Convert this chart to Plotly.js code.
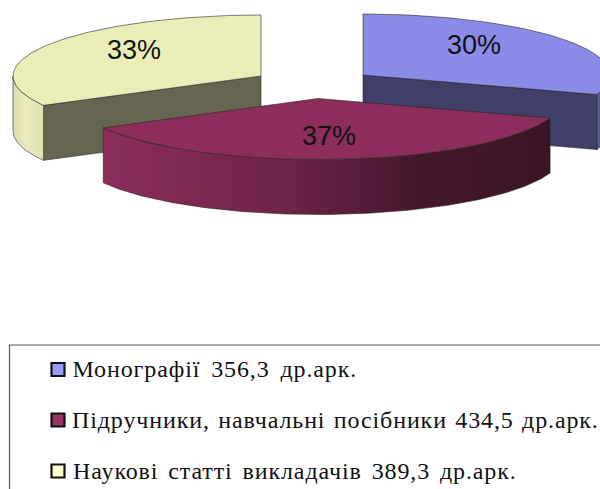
<!DOCTYPE html>
<html><head><meta charset="utf-8">
<script src="https://cdn.plot.ly/plotly-3.0.1.min.js"></script>
<style>html,body{margin:0;padding:0;background:#fff;overflow:hidden}#c{width:600px;height:489px}
.annotation-text{letter-spacing:0.88px;word-spacing:1.5px}
.annotation[data-index="0"] .annotation-text{word-spacing:4px}
.annotation[data-index="2"] .annotation-text{word-spacing:3px}</style>
</head><body><div id="c"></div>
<script>
// data
const categories = ["Монографії 356,3 др.арк.", "Підручники, навчальні посібники 434,5 др.арк.", "Наукові статті викладачів 389,3 др.арк."];
const values = [356.3, 434.5, 389.3];
const percentLabels = ["30%", "37%", "33%"];
// styles
const topColors = ["#8b8bea", "#8c2d5b", "#ebedb9"];
const swatchColors = ["#9999ff", "#993366", "#ffffcc"];
const faceColors = ["#3f3f68", "#5a1d3a", "#666650"];
const wallScales = [
  [[0, "#5c5c99"], [1, "#4b4b80"]],
  [[0, "#8c2d5b"], [0.4, "#6f2448"], [0.7, "#45172d"], [1, "#3b1424"]],
  [[0, "#dcdcae"], [0.4, "#eaeabc"], [1, "#e0e0b2"]]
];
// geometry of the exploded 3D pie (page pixels are the axis units)
const centres = [[363, 75], [318, 98.5], [261, 76]];
const radiiX = [247, 245, 248];
const ry = 61, depth = 55;
const labelX = [474, 329, 134], labelY = [47.5, 138.5, 52];
const legendTextX = [73, 70, 74];
const legendTextY = [368.5, 420, 471];
const swatchY = [369.5, 420, 471];
const swatchX = 58;

const total = values.reduce((a, b) => a + b, 0);
let cum = 0;
const spans = values.map(v => { const s = cum; cum += v / total * 360; return [s, cum]; });
const pt = (c, rx, a, dz) => {
  const r = a * Math.PI / 180;
  return [c[0] + rx * Math.sin(r), c[1] - ry * Math.cos(r) + dz];
};
const arc = (c, rx, a0, a1, dz) => {
  const out = [], n = Math.max(2, Math.ceil(Math.abs(a1 - a0)));
  for (let i = 0; i <= n; i++) out.push(pt(c, rx, a0 + (a1 - a0) * i / n, dz));
  return out;
};
const poly = (pts, extra) => Object.assign({
  x: pts.map(p => p[0]), y: pts.map(p => p[1]),
  mode: "lines", fill: "toself", hoverinfo: "skip", showlegend: false
}, extra);
const edge = { color: "rgba(40,40,40,0.75)", width: 0.8 };

const traces = [];
// paint order: blue, yellow, maroon on top
[0, 2, 1].forEach(i => {
  const c = centres[i], rx = radiiX[i], [a0, a1] = spans[i];
  const w0 = Math.max(a0, 90), w1 = Math.min(a1, 270);
  // inner straight face turned towards the viewer
  if (i !== 1) {
    const a = i === 0 ? a1 : a0;
    const e = pt(c, rx, a, 0);
    traces.push(poly([c, e, [e[0], e[1] + depth], [c[0], c[1] + depth], c],
      { fillcolor: faceColors[i], line: edge }));
  }
  // outer curved wall
  const wall = arc(c, rx, w0, w1, 0).concat(arc(c, rx, w1, w0, depth));
  wall.push(wall[0]);
  traces.push(poly(wall, { fillgradient: { type: "horizontal", colorscale: wallScales[i] }, line: edge }));
  // top surface
  const top = [c].concat(arc(c, rx, a0, a1, 0), [c]);
  traces.push(poly(top, { fillcolor: topColors[i], line: edge }));
});
traces.push({
  x: labelX, y: labelY, text: percentLabels, mode: "text", hoverinfo: "skip", showlegend: false,
  textposition: "middle center",
  textfont: { family: "Liberation Sans", size: 27, color: "#111" }
});
traces.push({
  x: categories.map(() => swatchX), y: swatchY, mode: "markers", hoverinfo: "skip", showlegend: false,
  marker: { symbol: "square", size: 13, color: swatchColors, line: { color: "#111", width: 2.2 } }
});

const layout = {
  width: 600, height: 489, margin: { l: 0, r: 0, t: 0, b: 0 },
  paper_bgcolor: "#fff", plot_bgcolor: "#fff", showlegend: false,
  xaxis: { range: [0, 600], visible: false, fixedrange: true },
  yaxis: { range: [489, 0], visible: false, fixedrange: true },
  shapes: [{ type: "rect", x0: 9.5, x1: 640, y0: 345, y1: 540, line: { color: "#555", width: 1.2 }, layer: "below" }],
  annotations: categories.map((t, i) => ({
    x: legendTextX[i], y: legendTextY[i], text: t, showarrow: false, xanchor: "left", yanchor: "middle",
    font: { family: "Liberation Serif", size: 24, color: "#111" }, xref: "x", yref: "y"
  }))
};
Plotly.newPlot("c", traces, layout, { displayModeBar: false, staticPlot: true });
</script></body></html>
